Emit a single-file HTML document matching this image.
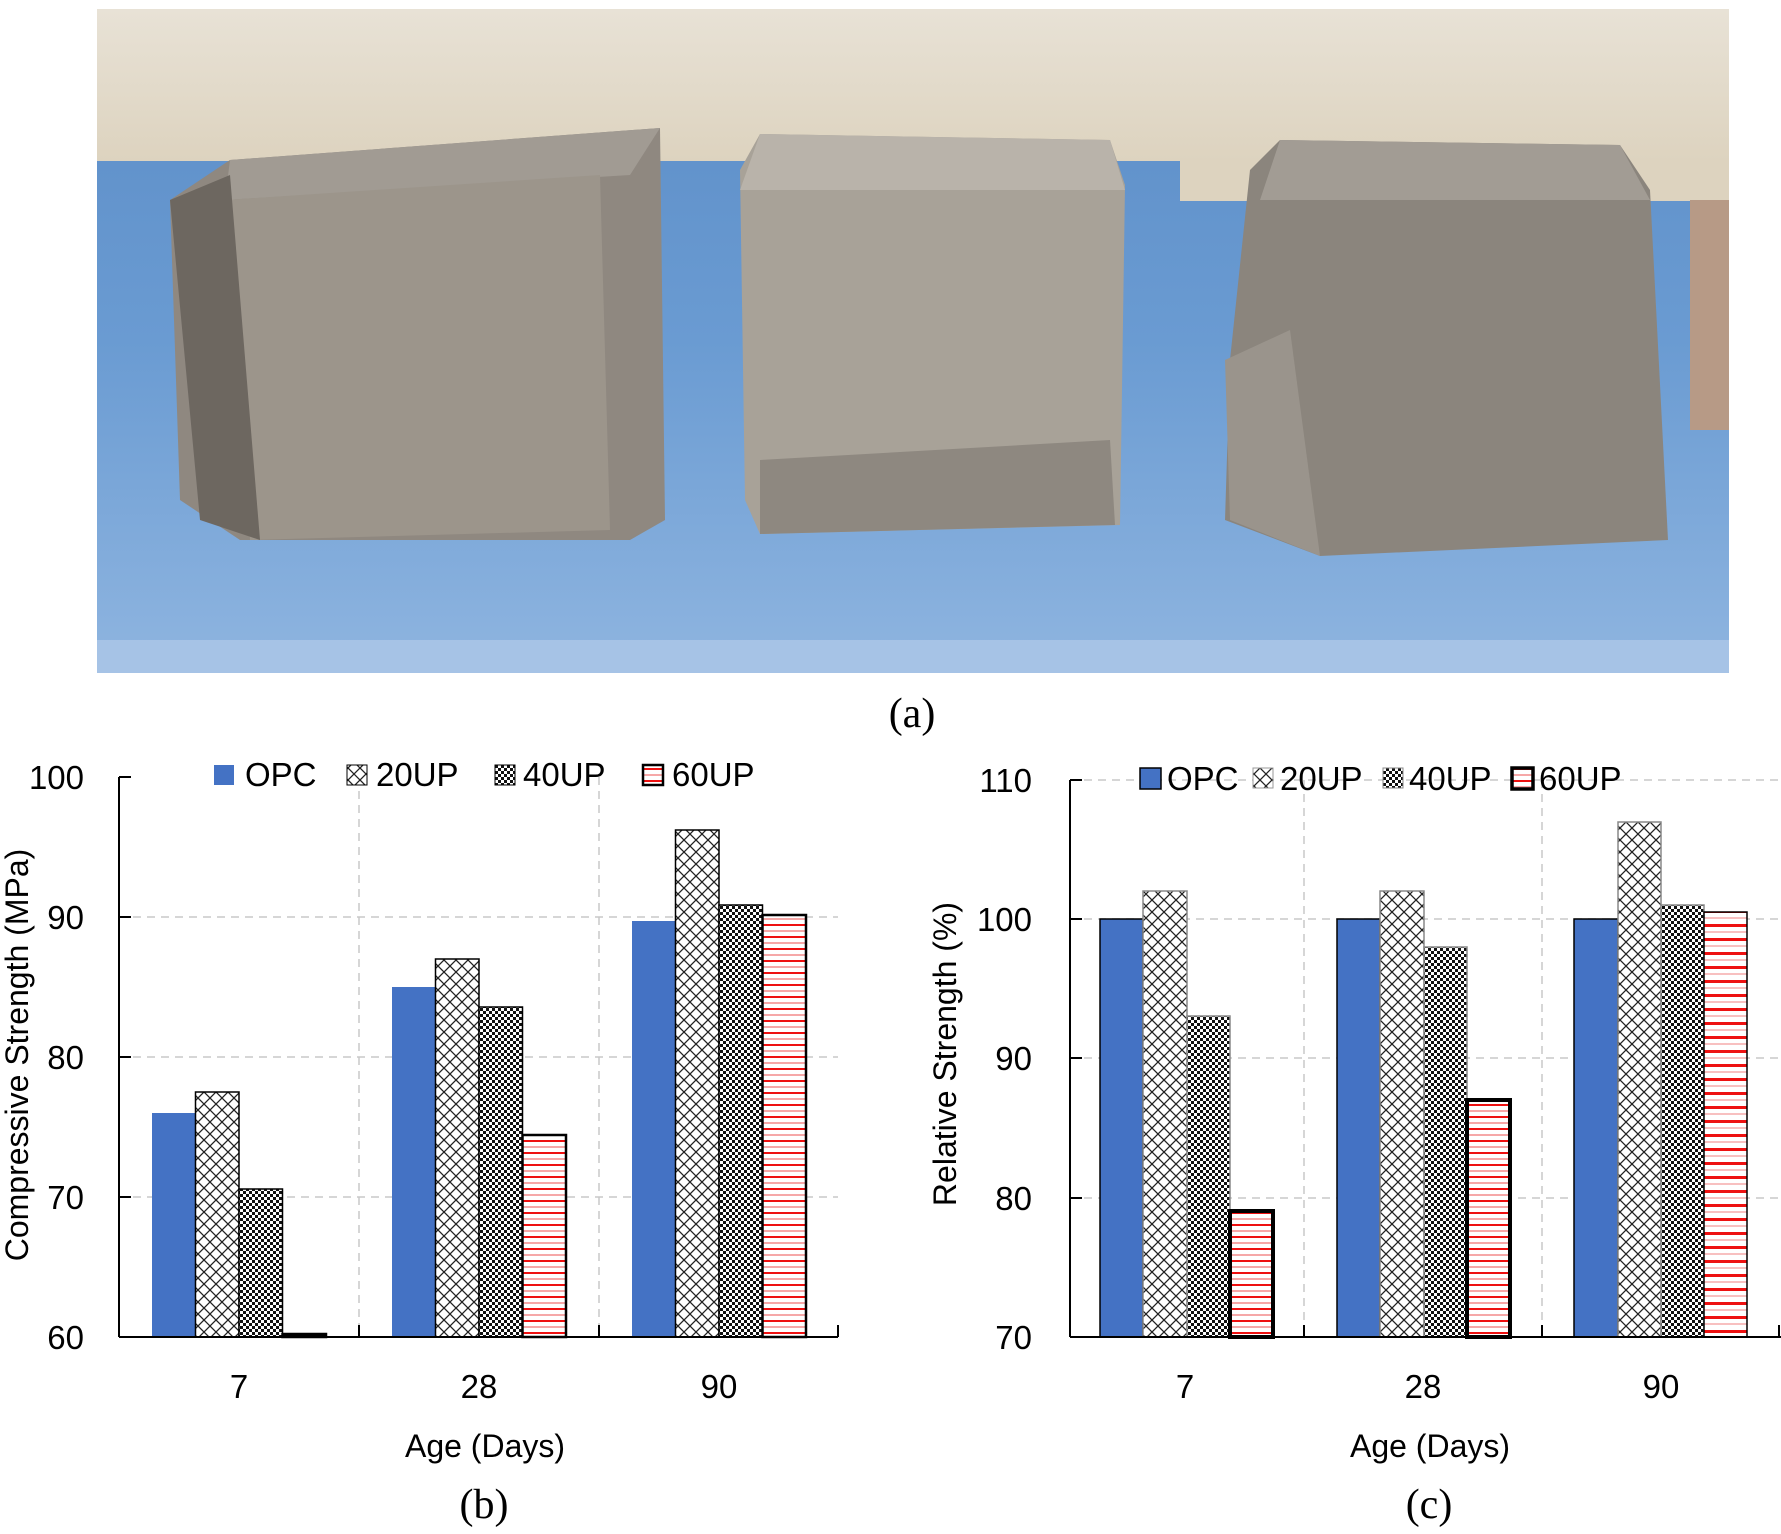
<!DOCTYPE html>
<html><head><meta charset="utf-8"><style>
html,body{margin:0;padding:0;background:#fff;}
svg{display:block;}
text{font-family:"Liberation Sans",Arial,sans-serif;fill:#000;}
.cap{font-family:"Liberation Serif","Times New Roman",serif;font-size:42px;}
.tk{font-size:33px;}
.tt{font-size:32px;}
.lg{font-size:33px;}
</style></head><body>
<svg width="1781" height="1534" viewBox="0 0 1781 1534" xmlns="http://www.w3.org/2000/svg">
<defs>
<pattern id="cross" width="12" height="12" patternUnits="userSpaceOnUse">
<rect width="12" height="12" fill="#fff"/>
<path d="M0,0L12,12M12,0L0,12" stroke="#222" stroke-width="1.3"/>
</pattern>
<pattern id="check" width="6" height="6" patternUnits="userSpaceOnUse">
<rect width="6" height="6" fill="#fff"/>
<rect width="3" height="3" fill="#111"/><rect x="3" y="3" width="3" height="3" fill="#111"/>
</pattern>
<pattern id="hline" width="12" height="12" patternUnits="userSpaceOnUse">
<rect width="12" height="12" fill="#fff"/>
<rect y="0" width="12" height="2" fill="#ee1111"/>
<rect y="6" width="12" height="2" fill="#f6a8a8"/>
</pattern>
<pattern id="hline2" width="12" height="14" patternUnits="userSpaceOnUse">
<rect width="12" height="14" fill="#fff"/>
<rect y="0" width="12" height="3" fill="#ee1111"/>
<rect y="7" width="12" height="2" fill="#f8c0c0"/>
</pattern>
<linearGradient id="wall" x1="0" y1="0" x2="0" y2="1"><stop offset="0" stop-color="#e8e2d6"/><stop offset="1" stop-color="#ddd3bf"/></linearGradient>
<linearGradient id="table" x1="0" y1="0" x2="0" y2="1"><stop offset="0" stop-color="#5b8cc6"/><stop offset="0.5" stop-color="#6a9bd2"/><stop offset="1" stop-color="#8fb5e0"/></linearGradient>
</defs>

<!-- Photo -->
<rect x="97" y="9" width="1632" height="664" fill="url(#table)"/>
<rect x="97" y="9" width="1632" height="152" fill="url(#wall)"/>
<rect x="1180" y="161" width="549" height="40" fill="#ddd3bf"/>
<rect x="1690" y="200" width="39" height="230" fill="#b79a86"/>
<rect x="97" y="640" width="1632" height="33" fill="#a6c3e6"/>
<!-- left cube -->
<polygon points="170,200 230,160 660,128 665,520 630,540 240,540 180,500" fill="#8f8880"/>
<polygon points="230,160 660,128 630,175 225,200" fill="#a19b93"/>
<polygon points="225,200 600,175 610,530 250,540" fill="#9c958b"/>
<polygon points="170,200 230,175 260,540 200,520" fill="#6d6760"/>
<!-- middle cube -->
<polygon points="740,170 760,134 1110,140 1125,185 1120,525 760,534 745,500" fill="#a8a298"/>
<polygon points="760,134 1110,140 1125,190 740,190" fill="#b9b3aa"/>
<polygon points="760,460 1110,440 1115,525 760,534" fill="#8e8880"/>
<!-- right cube -->
<polygon points="1250,170 1280,140 1620,145 1650,190 1668,540 1320,556 1225,520 1230,360" fill="#8b857d"/>
<polygon points="1280,140 1620,145 1650,200 1260,200" fill="#a29c94"/>
<polygon points="1225,360 1290,330 1320,556 1230,520" fill="#9a948c"/>

<text x="912" y="727" class="cap" text-anchor="middle">(a)</text>

<!-- Chart b -->
<g stroke="#c8c8c8" stroke-width="1.5" stroke-dasharray="8,6">
<line x1="119" y1="917" x2="838" y2="917"/><line x1="119" y1="1057" x2="838" y2="1057"/><line x1="119" y1="1197" x2="838" y2="1197"/>
<line x1="359" y1="777" x2="359" y2="1337"/><line x1="599" y1="777" x2="599" y2="1337"/>
</g>
<g stroke="#000" stroke-width="1.5">
<rect x="152" y="1113" width="43.5" height="224" fill="#4472c4" stroke="none"/>
<rect x="195.5" y="1092" width="43.5" height="245" fill="url(#cross)"/>
<rect x="239" y="1189" width="43.5" height="148" fill="url(#check)"/>
<rect x="282.5" y="1334" width="43.5" height="3" fill="#000" stroke-width="2.5"/>
<rect x="392" y="987" width="43.5" height="350" fill="#4472c4" stroke="none"/>
<rect x="435.5" y="959" width="43.5" height="378" fill="url(#cross)"/>
<rect x="479" y="1007" width="43.5" height="330" fill="url(#check)"/>
<rect x="522.5" y="1135" width="43.5" height="202" fill="url(#hline)" stroke-width="2.5"/>
<rect x="632" y="921" width="43.5" height="416" fill="#4472c4" stroke="none"/>
<rect x="675.5" y="830" width="43.5" height="507" fill="url(#cross)"/>
<rect x="719" y="905" width="43.5" height="432" fill="url(#check)"/>
<rect x="762.5" y="915" width="43.5" height="422" fill="url(#hline)" stroke-width="2.5"/>
</g>
<g stroke="#000" stroke-width="2">
<line x1="119" y1="777" x2="119" y2="1337"/><line x1="119" y1="1337" x2="838" y2="1337"/>
<line x1="119" y1="777" x2="131" y2="777"/><line x1="119" y1="917" x2="131" y2="917"/><line x1="119" y1="1057" x2="131" y2="1057"/><line x1="119" y1="1197" x2="131" y2="1197"/>
<line x1="359" y1="1337" x2="359" y2="1325"/><line x1="599" y1="1337" x2="599" y2="1325"/><line x1="838" y1="1337" x2="838" y2="1325"/>
</g>
<g class="tk" text-anchor="end">
<text x="84" y="789" class="tk">100</text><text x="84" y="929" class="tk">90</text><text x="84" y="1069" class="tk">80</text><text x="84" y="1209" class="tk">70</text><text x="84" y="1349" class="tk">60</text>
</g>
<g text-anchor="middle">
<text x="239" y="1398" class="tk">7</text><text x="479" y="1398" class="tk">28</text><text x="719" y="1398" class="tk">90</text>
<text x="485" y="1457" class="tt">Age (Days)</text>
<text transform="translate(28,1055) rotate(-90)" class="tt">Compressive Strength (MPa)</text>
</g>
<rect x="214" y="765" width="20" height="20" fill="#4472c4"/>
<text x="245" y="786" class="lg">OPC</text>
<rect x="347" y="765" width="20" height="20" fill="url(#cross)" stroke="#000" stroke-width="1"/>
<text x="376" y="786" class="lg">20UP</text>
<rect x="495" y="765" width="20" height="20" fill="url(#check)" stroke="#000" stroke-width="1"/>
<text x="523" y="786" class="lg">40UP</text>
<rect x="643" y="765" width="20" height="20" fill="url(#hline)" stroke="#000" stroke-width="2.5"/>
<text x="672" y="786" class="lg">60UP</text>
<text x="484" y="1518" class="cap" text-anchor="middle">(b)</text>

<!-- Chart c -->
<g stroke="#c8c8c8" stroke-width="1.5" stroke-dasharray="8,6">
<line x1="1070" y1="780" x2="1781" y2="780"/><line x1="1070" y1="919" x2="1781" y2="919"/><line x1="1070" y1="1058" x2="1781" y2="1058"/><line x1="1070" y1="1198" x2="1781" y2="1198"/>
<line x1="1304" y1="780" x2="1304" y2="1337"/><line x1="1542" y1="780" x2="1542" y2="1337"/>
</g>
<g stroke="#000" stroke-width="1.5">
<rect x="1100" y="919" width="43" height="418" fill="#4472c4"/>
<rect x="1143" y="891" width="44" height="446" fill="url(#cross)" stroke="#888"/>
<rect x="1187" y="1016" width="43" height="321" fill="url(#check)" stroke="#888"/>
<rect x="1230" y="1211" width="43" height="126" fill="url(#hline)" stroke-width="4"/>
<rect x="1337" y="919" width="43" height="418" fill="#4472c4"/>
<rect x="1380" y="891" width="44" height="446" fill="url(#cross)" stroke="#888"/>
<rect x="1424" y="947" width="43" height="390" fill="url(#check)" stroke="#888"/>
<rect x="1467" y="1100" width="43" height="237" fill="url(#hline)" stroke-width="4"/>
<rect x="1574" y="919" width="44" height="418" fill="#4472c4"/>
<rect x="1618" y="822" width="43" height="515" fill="url(#cross)" stroke="#888"/>
<rect x="1661" y="905" width="43" height="432" fill="url(#check)" stroke="#888"/>
<rect x="1704" y="912" width="43" height="425" fill="url(#hline2)" stroke-width="1.5"/>
</g>
<g stroke="#000" stroke-width="2">
<line x1="1070" y1="780" x2="1070" y2="1337"/><line x1="1070" y1="1337" x2="1781" y2="1337"/>
<line x1="1070" y1="780" x2="1082" y2="780"/><line x1="1070" y1="919" x2="1082" y2="919"/><line x1="1070" y1="1058" x2="1082" y2="1058"/><line x1="1070" y1="1198" x2="1082" y2="1198"/>
<line x1="1304" y1="1337" x2="1304" y2="1325"/><line x1="1542" y1="1337" x2="1542" y2="1325"/><line x1="1779" y1="1337" x2="1779" y2="1325"/>
</g>
<g text-anchor="end">
<text x="1032" y="792" class="tk">110</text><text x="1032" y="931" class="tk">100</text><text x="1032" y="1070" class="tk">90</text><text x="1032" y="1210" class="tk">80</text><text x="1032" y="1349" class="tk">70</text>
</g>
<g text-anchor="middle">
<text x="1185" y="1398" class="tk">7</text><text x="1423" y="1398" class="tk">28</text><text x="1661" y="1398" class="tk">90</text>
<text x="1430" y="1457" class="tt">Age (Days)</text>
<text transform="translate(956,1054) rotate(-90)" class="tt">Relative Strength (%)</text>
</g>
<rect x="1140" y="768" width="21" height="21" fill="#4472c4" stroke="#000" stroke-width="1.5"/>
<text x="1167" y="790" class="lg">OPC</text>
<rect x="1253" y="768" width="20" height="20" fill="url(#cross)" stroke="#999" stroke-width="1"/>
<text x="1280" y="790" class="lg">20UP</text>
<rect x="1383" y="768" width="20" height="20" fill="url(#check)" stroke="#888" stroke-width="1"/>
<text x="1409" y="790" class="lg">40UP</text>
<rect x="1512" y="768" width="21" height="21" fill="url(#hline)" stroke="#000" stroke-width="3.5"/>
<text x="1539" y="790" class="lg">60UP</text>
<text x="1429" y="1518" class="cap" text-anchor="middle">(c)</text>
</svg>
</body></html>
